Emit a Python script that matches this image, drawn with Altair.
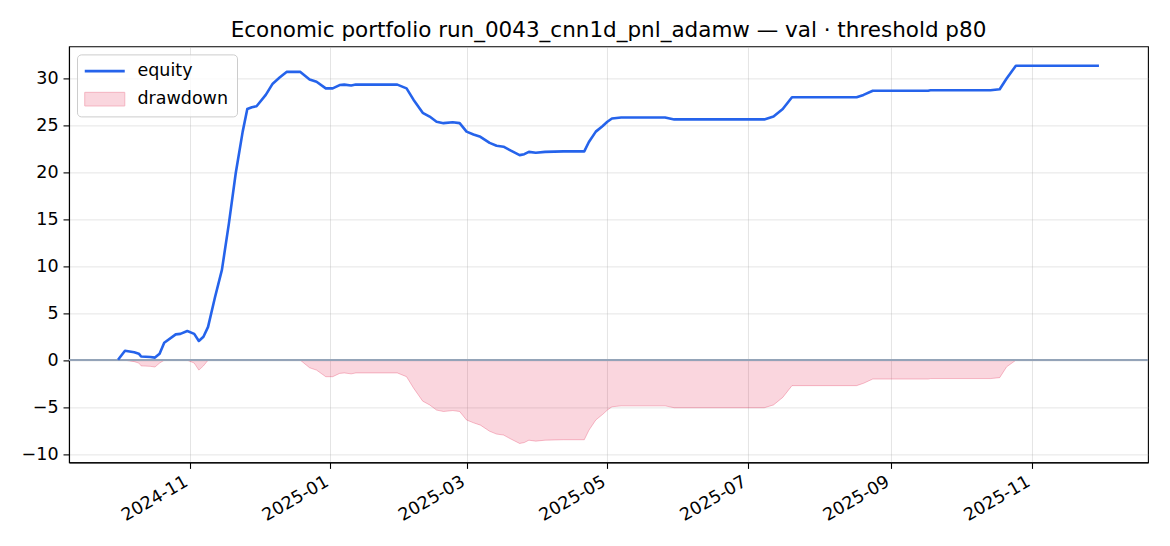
import altair as alt
import pandas as pd

# ---- data ----
dates = [
    "2024-10-01", "2024-10-04", "2024-10-08", "2024-10-10", "2024-10-11", "2024-10-15",
    "2024-10-17", "2024-10-19", "2024-10-21", "2024-10-26", "2024-10-28", "2024-10-31",
    "2024-11-03", "2024-11-05", "2024-11-07", "2024-11-09", "2024-11-12", "2024-11-15",
    "2024-11-18", "2024-11-21", "2024-11-24", "2024-11-26", "2024-11-28", "2024-11-30",
    "2024-12-04", "2024-12-07", "2024-12-10", "2024-12-13", "2024-12-19", "2024-12-23",
    "2024-12-26", "2024-12-30", "2025-01-02", "2025-01-05", "2025-01-07", "2025-01-10",
    "2025-01-12", "2025-01-30", "2025-02-03", "2025-02-06", "2025-02-10", "2025-02-13",
    "2025-02-16", "2025-02-19", "2025-02-23", "2025-02-26", "2025-03-01", "2025-03-04",
    "2025-03-07", "2025-03-11", "2025-03-14", "2025-03-17", "2025-03-20", "2025-03-24",
    "2025-03-26", "2025-03-28", "2025-03-31", "2025-04-04", "2025-04-12", "2025-04-21",
    "2025-04-23", "2025-04-26", "2025-04-29", "2025-05-01", "2025-05-03", "2025-05-07",
    "2025-05-26", "2025-05-30", "2025-07-08", "2025-07-12", "2025-07-16", "2025-07-20",
    "2025-08-17", "2025-08-20", "2025-08-24", "2025-09-17", "2025-09-18", "2025-10-14",
    "2025-10-18", "2025-10-21", "2025-10-25", "2025-11-30",
]
equity = [
    0.05, 1.0, 0.85, 0.7, 0.4, 0.35,
    0.28, 0.7, 1.85, 2.75, 2.8, 3.1,
    2.8, 2.05, 2.5, 3.55, 6.7, 9.6,
    14.5, 19.9, 24.3, 26.7, 26.9, 27.0,
    28.2, 29.4, 30.05, 30.65, 30.65, 29.85,
    29.6, 28.9, 28.9, 29.25, 29.3, 29.2,
    29.3, 29.3, 28.9, 27.7, 26.3, 25.9,
    25.35, 25.2, 25.3, 25.2, 24.3, 24.0,
    23.75, 23.1, 22.8, 22.7, 22.3, 21.8,
    21.9, 22.15, 22.05, 22.15, 22.2, 22.2,
    23.2, 24.3, 24.9, 25.35, 25.7, 25.8,
    25.8, 25.6, 25.6, 25.9, 26.7, 27.95,
    27.95, 28.2, 28.65, 28.65, 28.7, 28.7,
    28.8, 29.95, 31.3, 31.3,
]
series_names = ["equity", "drawdown"]
x_tick_dates = ["2024-11-01", "2025-01-01", "2025-03-01", "2025-05-01",
                "2025-07-01", "2025-09-01", "2025-11-01"]
y_ticks = [-10, -5, 0, 5, 10, 15, 20, 25, 30]
title_text = "Economic portfolio run_0043_cnn1d_pnl_adamw \u2014 val \u00b7 threshold p80"

df = pd.DataFrame({"date": dates, "equity": equity})
df["drawdown"] = df["equity"] - df["equity"].cummax()
df["series"] = series_names[0]


def dt(s, h=0):
    y, m, d = (int(v) for v in s.split("-"))
    return alt.DateTime(year=y, month=m, date=d, hours=h, utc=True)


FONT = "DejaVu Sans"
BLUE = "#2563eb"
ROSE = "#e11d48"

x_scale = alt.Scale(type="utc", domain=[dt("2024-09-09", 18), dt("2025-12-21", 6)], nice=False)
y_scale = alt.Scale(domain=[-10.86, 33.36], nice=False, zero=False)
x_axis = alt.Axis(values=[dt(s) for s in x_tick_dates], format="%Y-%m", title=None,
                  labelAngle=-30, labelAlign="right", labelBaseline="top",
                  labelPadding=4, labelOffset=-8)
y_axis = alt.Axis(values=y_ticks, format="d", title=None)


def X():
    return alt.X("date:T", scale=x_scale, axis=x_axis)


def Y(field):
    return alt.Y(field, type="quantitative", scale=y_scale, axis=y_axis)


base = alt.Chart(df)

area = base.mark_area(fill=ROSE, fillOpacity=0.18, stroke=ROSE, strokeOpacity=0.28,
                      strokeWidth=1, interpolate="linear").encode(
    x=X(), y=Y("drawdown"), y2=alt.datum(0)
)

zero = base.mark_rule(color="#94a3b8", strokeWidth=1.2).encode(y=alt.datum(0))

legend = alt.Legend(
    title=None, orient="top-left", offset=8,
    symbolType=alt.ExprRef(expr="datum.value === 'equity' ? 'stroke' : 'M-1,-0.34H1V0.34H-1Z'"),
    symbolSize=1600, symbolOffset=11,
    symbolStrokeWidth=alt.ExprRef(expr="datum.value === 'equity' ? 2.6 : 1"),
    symbolFillColor=alt.ExprRef(expr="datum.value === 'equity' ? 'transparent' : '#fad6de'"),
    labelFont=FONT, labelFontSize=17.5, labelColor="black", labelOffset=24,
    rowPadding=9, padding=8, strokeColor="#cccccc", fillColor="rgba(255,255,255,0.8)",
    cornerRadius=4,
)

line = base.mark_line(strokeWidth=2.6, strokeJoin="round").encode(
    x=X(), y=Y("equity"),
    color=alt.Color("series:N", scale=alt.Scale(domain=series_names, range=[BLUE, "#f4b4c1"]),
                    legend=legend),
)

chart = alt.layer(area, zero, line).properties(
    width=1079, height=416,
    autosize=alt.AutoSizeParams(type="none"),
    padding={"left": 61, "top": 38.4, "right": 14, "bottom": 72},
    title=alt.TitleParams(title_text, font=FONT, fontSize=21.5, fontWeight="normal",
                          color="black", anchor="middle", frame="group", offset=8,
                          baseline="alphabetic", dy=20),
).configure_axis(
    labelFont=FONT, labelFontSize=17.5, labelColor="black",
    tickColor="black", tickSize=6, tickWidth=1.1,
    domainColor="black", domainWidth=1.1,
    gridColor="#b0b0b0", gridOpacity=0.35, gridWidth=1, labelPadding=5,
).configure_view(stroke="black", strokeWidth=1.1)

chart.save("out.html", embed_options={"renderer": "svg", "actions": False})
